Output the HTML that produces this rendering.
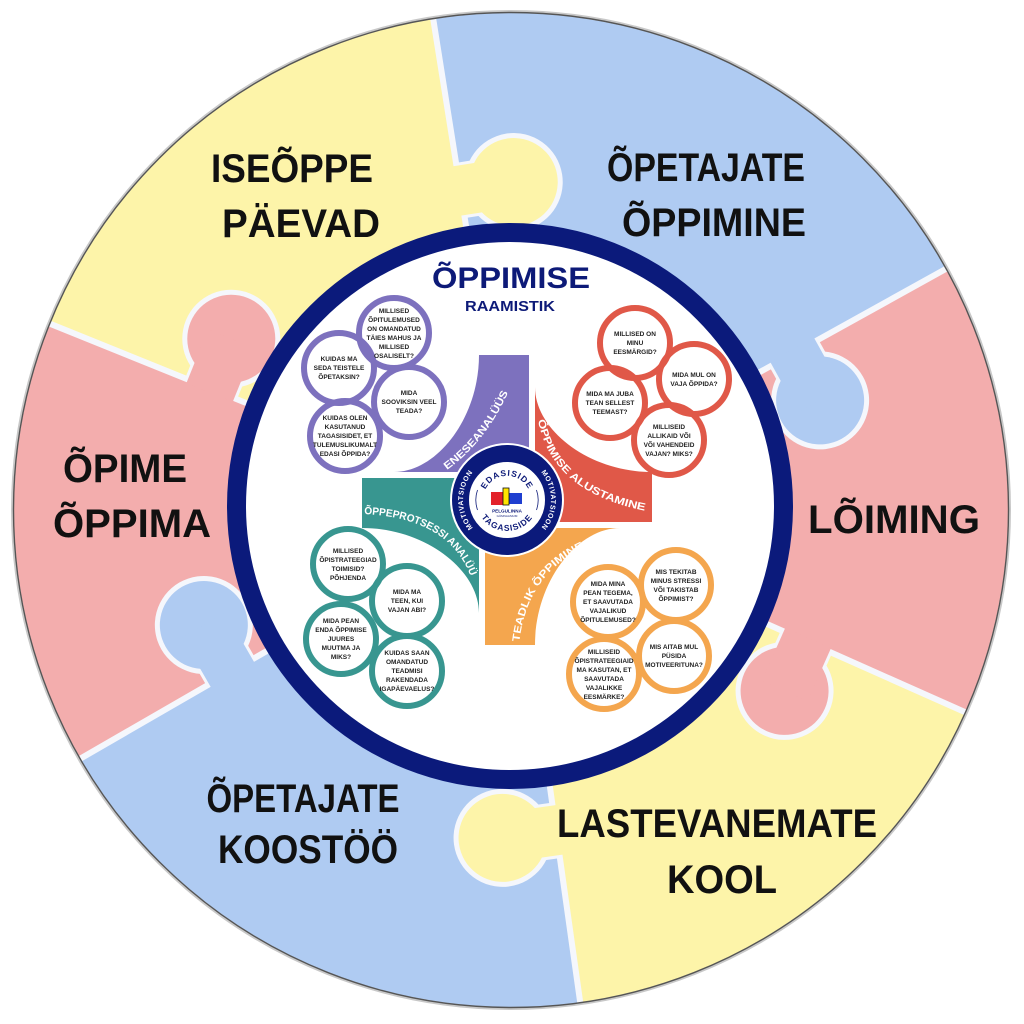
<!DOCTYPE html>
<html>
<head>
<meta charset="utf-8">
<style>
html,body{margin:0;padding:0;background:#fff}
svg{display:block}
</style>
</head>
<body>
<svg width="1024" height="1024" viewBox="0 0 1024 1024" xmlns="http://www.w3.org/2000/svg" font-family="'Liberation Sans', sans-serif">
<defs>
  <path id="tpPur" d="M 447,470 Q 492,437 514,378"/>
  <path id="tpRed" d="M 538,420 Q 552,495 652,512"/>
  <path id="tpOra" d="M 519,645 Q 528,556 618,537"/>
  <path id="tpTea" d="M 364,514 Q 448,518 470,575"/>
  <path id="motL" d="M 475.9,531.1 A 44 44 0 0 1 475.9,468.9"/>
  <path id="motR" d="M 538.1,468.9 A 44 44 0 0 1 538.1,531.1"/>
  <path id="edaP" d="M 484.4,491.8 A 24 24 0 0 1 529.6,491.8"/>
  <path id="tagP" d="M 477.9,510.6 A 31 31 0 0 0 536.1,510.6"/>
</defs>

<!-- faint outer shadow -->
<circle cx="511" cy="510" r="499" fill="none" stroke="#c8c8c8" stroke-width="2"/>

<!-- wedges -->
<path d="M511,510 L50.2,323.8 A497,497 0 0 1 433.3,19.1 Z" fill="#fdf4a9"/>
<path d="M511,510 L433.3,19.1 A497,497 0 0 1 945.7,269.0 Z" fill="#afcbf2"/>
<path d="M511,510 L945.7,269.0 A497,497 0 0 1 965.0,712.1 Z" fill="#f3adad"/>
<path d="M511,510 L965.0,712.1 A497,497 0 0 1 580.2,1002.2 Z" fill="#fdf4a9"/>
<path d="M511,510 L580.2,1002.2 A497,497 0 0 1 80.6,758.5 Z" fill="#afcbf2"/>
<path d="M511,510 L80.6,758.5 A497,497 0 0 1 50.2,323.8 Z" fill="#f3adad"/>

<!-- boundaries with knobs -->
<g transform="translate(511,510) rotate(261)">
  <line x1="260" y1="0" x2="497" y2="0" stroke="#f5f7fc" stroke-width="6"/>
  <circle cx="323.5" cy="54" r="49" fill="#f5f7fc"/>
  <rect x="295.5" y="0" width="56" height="54" fill="#f5f7fc"/>
  <circle cx="323.5" cy="54" r="44" fill="#fdf4a9"/>
  <rect x="298.5" y="-4" width="50" height="58" fill="#fdf4a9"/>
</g>
<g transform="translate(511,510) rotate(331)">
  <line x1="260" y1="0" x2="497" y2="0" stroke="#f5f7fc" stroke-width="6"/>
  <circle cx="323.5" cy="54" r="49" fill="#f5f7fc"/>
  <rect x="295.5" y="0" width="56" height="54" fill="#f5f7fc"/>
  <circle cx="323.5" cy="54" r="44" fill="#afcbf2"/>
  <rect x="298.5" y="-4" width="50" height="58" fill="#afcbf2"/>
</g>
<g transform="translate(511,510) rotate(24)">
  <line x1="260" y1="0" x2="497" y2="0" stroke="#f5f7fc" stroke-width="6"/>
  <circle cx="323.5" cy="54" r="49" fill="#f5f7fc"/>
  <rect x="295.5" y="0" width="56" height="54" fill="#f5f7fc"/>
  <circle cx="323.5" cy="54" r="44" fill="#f3adad"/>
  <rect x="298.5" y="-4" width="50" height="58" fill="#f3adad"/>
</g>
<g transform="translate(511,510) rotate(82)">
  <line x1="260" y1="0" x2="497" y2="0" stroke="#f5f7fc" stroke-width="6"/>
  <circle cx="323.5" cy="54" r="49" fill="#f5f7fc"/>
  <rect x="295.5" y="0" width="56" height="54" fill="#f5f7fc"/>
  <circle cx="323.5" cy="54" r="44" fill="#fdf4a9"/>
  <rect x="298.5" y="-4" width="50" height="58" fill="#fdf4a9"/>
</g>
<g transform="translate(511,510) rotate(150)">
  <line x1="260" y1="0" x2="497" y2="0" stroke="#f5f7fc" stroke-width="6"/>
  <circle cx="323.5" cy="54" r="49" fill="#f5f7fc"/>
  <rect x="295.5" y="0" width="56" height="54" fill="#f5f7fc"/>
  <circle cx="323.5" cy="54" r="44" fill="#afcbf2"/>
  <rect x="298.5" y="-4" width="50" height="58" fill="#afcbf2"/>
</g>
<g transform="translate(511,510) rotate(202)">
  <line x1="260" y1="0" x2="497" y2="0" stroke="#f5f7fc" stroke-width="6"/>
  <circle cx="323.5" cy="54" r="49" fill="#f5f7fc"/>
  <rect x="295.5" y="0" width="56" height="54" fill="#f5f7fc"/>
  <circle cx="323.5" cy="54" r="44" fill="#f3adad"/>
  <rect x="298.5" y="-4" width="50" height="58" fill="#f3adad"/>
</g>

<!-- outer dark edge -->
<circle cx="511" cy="510" r="497.5" fill="none" stroke="#555" stroke-width="1.4"/>

<!-- outer labels -->
<g font-weight="bold" font-size="40" fill="#111" text-anchor="middle">
  <text x="292" y="182" textLength="162" lengthAdjust="spacingAndGlyphs">ISEÕPPE</text>
  <text x="301" y="237" textLength="158" lengthAdjust="spacingAndGlyphs">PÄEVAD</text>
  <text x="706" y="181" textLength="198" lengthAdjust="spacingAndGlyphs">ÕPETAJATE</text>
  <text x="714" y="236" textLength="184" lengthAdjust="spacingAndGlyphs">ÕPPIMINE</text>
  <text x="125" y="482" textLength="124" lengthAdjust="spacingAndGlyphs">ÕPIME</text>
  <text x="132" y="537" textLength="158" lengthAdjust="spacingAndGlyphs">ÕPPIMA</text>
  <text x="894" y="533" textLength="172" lengthAdjust="spacingAndGlyphs">LÕIMING</text>
  <text x="303" y="812" textLength="193" lengthAdjust="spacingAndGlyphs">ÕPETAJATE</text>
  <text x="308" y="863" textLength="180" lengthAdjust="spacingAndGlyphs">KOOSTÖÖ</text>
  <text x="717" y="837" textLength="320" lengthAdjust="spacingAndGlyphs">LASTEVANEMATE</text>
  <text x="722" y="893" textLength="110" lengthAdjust="spacingAndGlyphs">KOOL</text>
</g>

<!-- inner disc -->
<circle cx="510" cy="506" r="273.5" fill="#ffffff" stroke="#0b1a7b" stroke-width="19"/>

<!-- title -->
<text x="511" y="288" text-anchor="middle" font-weight="bold" font-size="30" fill="#0d1a78" textLength="158" lengthAdjust="spacingAndGlyphs">ÕPPIMISE</text>
<text x="510" y="311" text-anchor="middle" font-weight="bold" font-size="15" fill="#0d1a78" textLength="90" lengthAdjust="spacingAndGlyphs">RAAMISTIK</text>

<!-- blades -->
<path d="M 529,355 L 479,355 C 479,418 437,472 394,472 L 529,472 Z" fill="#7d71be"/>
<path d="M 652,522 L 652,472 C 589,472 535,430 535,387 L 535,522 Z" fill="#e05848"/>
<path d="M 485,645 L 535,645 C 535,582 577,528 620,528 L 485,528 Z" fill="#f4a64e"/>
<path d="M 362,478 L 362,528 C 425,528 479,570 479,613 L 479,478 Z" fill="#389690"/>

<g font-weight="bold" font-size="10.5" fill="#fff">
  <text><textPath href="#tpPur" textLength="100" lengthAdjust="spacingAndGlyphs">ENESEANALÜÜS</textPath></text>
  <text><textPath href="#tpRed" textLength="150" lengthAdjust="spacingAndGlyphs">ÕPPIMISE ALUSTAMINE</textPath></text>
  <text><textPath href="#tpOra" startOffset="3" textLength="120" lengthAdjust="spacingAndGlyphs">TEADLIK ÕPPIMINE</textPath></text>
  <text><textPath href="#tpTea" textLength="138" lengthAdjust="spacingAndGlyphs">ÕPPEPROTSESSI ANALÜÜS</textPath></text>
</g>

<!-- center logo -->
<circle cx="507" cy="500" r="57" fill="#fff"/>
<circle cx="507" cy="500" r="46.5" fill="#fff" stroke="#0b1a7b" stroke-width="17"/>
<g font-weight="bold" font-size="7" fill="#fff" letter-spacing="0.6">
  <text text-anchor="middle"><textPath href="#motL" startOffset="50%">MOTIVATSIOON</textPath></text>
  <text text-anchor="middle"><textPath href="#motR" startOffset="50%">MOTIVATSIOON</textPath></text>
</g>
<g font-weight="bold" font-size="8.5" fill="#0d1a78" letter-spacing="0.9">
  <text text-anchor="middle"><textPath href="#edaP" startOffset="50%">EDASISIDE</textPath></text>
  <text text-anchor="middle"><textPath href="#tagP" startOffset="50%">TAGASISIDE</textPath></text>
</g>
<path d="M 477.5,490 A 31 31 0 0 0 477.5,510" fill="none" stroke="#0d1a78" stroke-width="0.8"/>
<path d="M 536.5,490 A 31 31 0 0 1 536.5,510" fill="none" stroke="#0d1a78" stroke-width="0.8"/>
<rect x="491" y="492" width="13" height="13" fill="#e3222a"/>
<rect x="509" y="493" width="13" height="11" fill="#1f3fd0"/>
<rect x="503" y="488" width="6" height="17" fill="#ffe400" stroke="#111" stroke-width="0.8"/>
<text x="507" y="512.5" text-anchor="middle" font-weight="bold" font-size="4.6" fill="#0d1a78">PELGULINNA</text>
<text x="507" y="517" text-anchor="middle" font-size="3" fill="#0d1a78">GÜMNAASIUM</text>

<!-- bubbles: fills -->
<g fill="#fff">
  <circle cx="394" cy="333" r="35"/><circle cx="339" cy="368" r="35"/><circle cx="409" cy="402" r="35"/><circle cx="345" cy="436" r="35"/>
  <circle cx="635" cy="343" r="35"/><circle cx="694" cy="379" r="35"/><circle cx="610" cy="403" r="35"/><circle cx="669" cy="440" r="35"/>
  <circle cx="348" cy="564" r="35"/><circle cx="407" cy="601" r="35"/><circle cx="341" cy="639" r="35"/><circle cx="407" cy="671" r="35"/>
  <circle cx="608" cy="602" r="35"/><circle cx="676" cy="585" r="35"/><circle cx="604" cy="674" r="35"/><circle cx="674" cy="656" r="35"/>
</g>
<g fill="none" stroke-width="6">
  <g stroke="#7d71be">
    <circle cx="394" cy="333" r="35"/><circle cx="339" cy="368" r="35"/><circle cx="409" cy="402" r="35"/><circle cx="345" cy="436" r="35"/>
  </g>
  <g stroke="#e05848">
    <circle cx="635" cy="343" r="35"/><circle cx="694" cy="379" r="35"/><circle cx="610" cy="403" r="35"/><circle cx="669" cy="440" r="35"/>
  </g>
  <g stroke="#389690">
    <circle cx="348" cy="564" r="35"/><circle cx="407" cy="601" r="35"/><circle cx="341" cy="639" r="35"/><circle cx="407" cy="671" r="35"/>
  </g>
  <g stroke="#f4a64e">
    <circle cx="608" cy="602" r="35"/><circle cx="676" cy="585" r="35"/><circle cx="604" cy="674" r="35"/><circle cx="674" cy="656" r="35"/>
  </g>
</g>

<!-- bubble texts -->
<g font-weight="bold" font-size="6.5" fill="#1f1f1f" text-anchor="middle">
  <text x="394" y="313">MILLISED</text>
  <text x="394" y="322">ÕPITULEMUSED</text>
  <text x="394" y="331">ON OMANDATUD</text>
  <text x="394" y="340">TÄIES MAHUS JA</text>
  <text x="394" y="349">MILLISED</text>
  <text x="394" y="358">OSALISELT?</text>

  <text x="339" y="361">KUIDAS MA</text>
  <text x="339" y="370">SEDA TEISTELE</text>
  <text x="339" y="379">ÕPETAKSIN?</text>

  <text x="409" y="395">MIDA</text>
  <text x="409" y="404">SOOVIKSIN VEEL</text>
  <text x="409" y="413">TEADA?</text>

  <text x="345" y="420">KUIDAS OLEN</text>
  <text x="345" y="429">KASUTANUD</text>
  <text x="345" y="438">TAGASISIDET, ET</text>
  <text x="345" y="447">TULEMUSLIKUMALT</text>
  <text x="345" y="456">EDASI ÕPPIDA?</text>

  <text x="635" y="336">MILLISED ON</text>
  <text x="635" y="345">MINU</text>
  <text x="635" y="354">EESMÄRGID?</text>

  <text x="694" y="377">MIDA MUL ON</text>
  <text x="694" y="386">VAJA ÕPPIDA?</text>

  <text x="610" y="396">MIDA MA JUBA</text>
  <text x="610" y="405">TEAN SELLEST</text>
  <text x="610" y="414">TEEMAST?</text>

  <text x="669" y="429">MILLISEID</text>
  <text x="669" y="438">ALLIKAID VÕI</text>
  <text x="669" y="447">VÕI VAHENDEID</text>
  <text x="669" y="456">VAJAN? MIKS?</text>

  <text x="348" y="553">MILLISED</text>
  <text x="348" y="562">ÕPISTRATEEGIAD</text>
  <text x="348" y="571">TOIMISID?</text>
  <text x="348" y="580">PÕHJENDA</text>

  <text x="407" y="594">MIDA MA</text>
  <text x="407" y="603">TEEN, KUI</text>
  <text x="407" y="612">VAJAN ABI?</text>

  <text x="341" y="623">MIDA PEAN</text>
  <text x="341" y="632">ENDA ÕPPIMISE</text>
  <text x="341" y="641">JUURES</text>
  <text x="341" y="650">MUUTMA JA</text>
  <text x="341" y="659">MIKS?</text>

  <text x="407" y="655">KUIDAS SAAN</text>
  <text x="407" y="664">OMANDATUD</text>
  <text x="407" y="673">TEADMISI</text>
  <text x="407" y="682">RAKENDADA</text>
  <text x="407" y="691">IGAPÄEVAELUS?</text>

  <text x="608" y="586">MIDA MINA</text>
  <text x="608" y="595">PEAN TEGEMA,</text>
  <text x="608" y="604">ET SAAVUTADA</text>
  <text x="608" y="613">VAJALIKUD</text>
  <text x="608" y="622">ÕPITULEMUSED?</text>

  <text x="676" y="574">MIS TEKITAB</text>
  <text x="676" y="583">MINUS STRESSI</text>
  <text x="676" y="592">VÕI TAKISTAB</text>
  <text x="676" y="601">ÕPPIMIST?</text>

  <text x="604" y="654">MILLISEID</text>
  <text x="604" y="663">ÕPISTRATEEGIAID</text>
  <text x="604" y="672">MA KASUTAN, ET</text>
  <text x="604" y="681">SAAVUTADA</text>
  <text x="604" y="690">VAJALIKKE</text>
  <text x="604" y="699">EESMÄRKE?</text>

  <text x="674" y="649">MIS AITAB MUL</text>
  <text x="674" y="658">PÜSIDA</text>
  <text x="674" y="667">MOTIVEERITUNA?</text>
</g>
</svg>
</body>
</html>
